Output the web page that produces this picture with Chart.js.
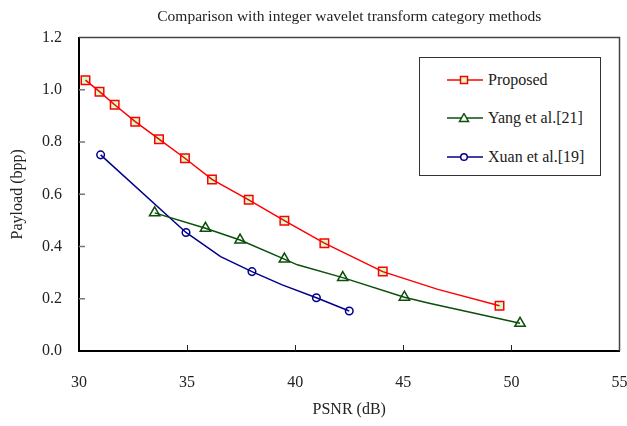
<!DOCTYPE html>
<html>
<head>
<meta charset="utf-8">
<script src="https://cdn.jsdelivr.net/npm/chart.js@4.4.1/dist/chart.umd.min.js"></script>
<style>
  html, body { margin: 0; padding: 0; background: #fff; }
  #wrap { position: relative; width: 627px; height: 426px; }
  #legend {
    position: absolute; left: 419px; top: 57px; width: 182px; height: 119px;
    box-sizing: border-box; border: 1px solid #333; background: #fff;
    font-family: 'Liberation Serif', 'DejaVu Serif', serif; font-size: 16px; color: #222;
  }
  .row { position: absolute; left: 27px; height: 20px; line-height: 20px; white-space: nowrap; }
  .row svg { position: absolute; left: 0; top: 5px; }
  .row span { position: absolute; left: 41px; top: 0; }
</style>
</head>
<body>
<div id="wrap">
  <canvas id="c" width="627" height="426"></canvas>
  <div id="legend"></div>
</div>
<script>
'use strict';

const FONT = "'Liberation Serif', 'DejaVu Serif', serif";

const TITLE = 'Comparison with integer wavelet transform category methods';
const X_TITLE = 'PSNR (dB)';
const Y_TITLE = 'Payload (bpp)';
const X_TICKS = [30, 35, 40, 45, 50, 55];
const Y_TICKS = [0, 0.2, 0.4, 0.6, 0.8, 1.0, 1.2];

const SERIES_NAMES = ['Proposed', 'Yang et al.[21]', 'Xuan et al.[19]'];

// marked points
const proposedPsnr = [30.3, 30.95, 31.65, 32.6, 33.7, 34.9, 36.15, 37.85, 39.5, 41.35, 44.05, 49.45];
const proposedPayload = [1.037, 0.993, 0.943, 0.878, 0.811, 0.738, 0.657, 0.579, 0.499, 0.413, 0.304, 0.173];
const yangPsnr = [33.5, 35.85, 37.45, 39.5, 42.2, 45.05, 50.4];
const yangPayload = [0.529, 0.470, 0.425, 0.352, 0.281, 0.206, 0.106];
const xuanPsnr = [31.0, 34.95, 38.0, 40.98, 42.5];
const xuanPayload = [0.751, 0.454, 0.304, 0.204, 0.153];

// unmarked bends of the drawn lines
const proposedBendPsnr = [46.6];
const proposedBendPayload = [0.236];
const yangBendPsnr = [40.1, 46.2];
const yangBendPayload = [0.330, 0.183];
const xuanBendPsnr = [36.55, 39.4];
const xuanBendPayload = [0.361, 0.253];

const pts = (xs, ys) => xs.map((x, i) => ({ x, y: ys[i] }));
const path = (xs, ys, bx, by) => pts(xs, ys).concat(pts(bx, by)).sort((a, b) => a.x - b.x);

const RED = '#ff0000', GREEN = '#0b4f0b', BLUE = '#00008b';

const lineSet = (data, color) => ({
  data, showLine: true, borderColor: color, borderWidth: 1.5, pointRadius: 0, pointHoverRadius: 0
});
const markSet = (data, color, style, r, fill) => ({
  data, showLine: false, pointStyle: style, pointRadius: r, pointHoverRadius: r,
  borderColor: color, backgroundColor: fill, pointBorderWidth: 1.5, borderWidth: 1.5
});

const frame = {
  id: 'frame',
  beforeDatasetsDraw(chart) {
    const { ctx, chartArea: a, scales } = chart;
    ctx.save();
    ctx.strokeStyle = '#444';
    ctx.lineWidth = 1.5;
    ctx.beginPath();
    ctx.moveTo(a.left, a.top); ctx.lineTo(a.right, a.top); ctx.lineTo(a.right, a.bottom);
    ctx.stroke();
    ctx.strokeStyle = '#777';
    ctx.lineWidth = 1.5;
    ctx.beginPath();
    Y_TICKS.slice(1, -1).forEach((v) => {
      const y = scales.y.getPixelForValue(v);
      ctx.moveTo(a.left, y); ctx.lineTo(a.left + 6, y);
    });
    ctx.stroke();
    ctx.strokeStyle = '#222';
    ctx.lineWidth = 1;
    ctx.beginPath();
    X_TICKS.slice(1, -1).forEach((v) => {
      const x = Math.round(scales.x.getPixelForValue(v)) + 0.5;
      ctx.moveTo(x, a.bottom); ctx.lineTo(x, a.bottom - 6);
    });
    ctx.stroke();
    ctx.restore();
  }
};

new Chart(document.getElementById('c').getContext('2d'), {
  type: 'scatter',
  data: {
    datasets: [
      lineSet(path(proposedPsnr, proposedPayload, proposedBendPsnr, proposedBendPayload), RED),
      lineSet(path(yangPsnr, yangPayload, yangBendPsnr, yangBendPayload), GREEN),
      lineSet(path(xuanPsnr, xuanPayload, xuanBendPsnr, xuanBendPayload), BLUE),
      markSet(pts(proposedPsnr, proposedPayload), RED, 'rect', 6, '#ccffcc'),
      markSet(pts(yangPsnr, yangPayload), GREEN, 'triangle', 6, '#fff'),
      markSet(pts(xuanPsnr, xuanPayload), BLUE, 'circle', 3.8, '#fff')
    ]
  },
  options: {
    responsive: false,
    animation: false,
    layout: { padding: { right: 5, left: 0, top: 0, bottom: 0 } },
    plugins: {
      legend: { display: false },
      tooltip: { enabled: false },
      title: {
        display: true, text: TITLE, fullSize: false, color: '#222',
        font: { family: FONT, size: 15.5, weight: 'normal' },
        padding: { top: 8, bottom: 11 }
      }
    },
    scales: {
      x: {
        type: 'linear', min: X_TICKS[0], max: X_TICKS[X_TICKS.length - 1],
        afterBuildTicks: (s) => { s.ticks = X_TICKS.map((v) => ({ value: v })); },
        afterFit: (s) => { s.height = 75; s.paddingLeft = 0; s.paddingRight = 0; },
        ticks: { color: '#222', padding: 22, font: { family: FONT, size: 16 } },
        grid: { drawOnChartArea: false, drawTicks: false },
        border: { color: '#000', width: 2 },
        title: {
          display: true, text: X_TITLE, color: '#222',
          font: { family: FONT, size: 16 }, padding: { top: 0, bottom: 7 }
        }
      },
      y: {
        min: Y_TICKS[0], max: Y_TICKS[Y_TICKS.length - 1],
        afterBuildTicks: (s) => { s.ticks = Y_TICKS.map((v) => ({ value: v })); },
        afterFit: (s) => { s.width = 79; },
        ticks: { color: '#222', padding: 17, font: { family: FONT, size: 16 }, callback: (v) => Number(v).toFixed(1) },
        grid: { drawOnChartArea: false, drawTicks: false },
        border: { color: '#000', width: 2 },
        title: {
          display: true, text: Y_TITLE, color: '#222',
          font: { family: FONT, size: 16 }, padding: { top: 8, bottom: 0 }
        }
      }
    }
  },
  plugins: [frame]
});

// legend box
const legendMarks = [
  `<line x1="0" y1="5" x2="36" y2="5" stroke="${RED}" stroke-width="1.5"/><rect x="13.5" y="1.5" width="7" height="7" fill="#ccffcc" stroke="${RED}" stroke-width="1.5"/>`,
  `<line x1="0" y1="5" x2="36" y2="5" stroke="${GREEN}" stroke-width="1.5"/><polygon points="17,0.5 21.5,8.5 12.5,8.5" fill="#fff" stroke="${GREEN}" stroke-width="1.5"/>`,
  `<line x1="0" y1="5" x2="36" y2="5" stroke="${BLUE}" stroke-width="1.5"/><circle cx="17" cy="5" r="3.3" fill="#fff" stroke="${BLUE}" stroke-width="1.5"/>`
];
const rowTops = [12, 50, 89];
const legend = document.getElementById('legend');
SERIES_NAMES.forEach((name, i) => {
  const row = document.createElement('div');
  row.className = 'row';
  row.style.top = rowTops[i] + 'px';
  row.innerHTML = `<svg width="36" height="10">${legendMarks[i]}</svg><span></span>`;
  row.querySelector('span').textContent = name;
  legend.appendChild(row);
});
</script>
</body>
</html>
